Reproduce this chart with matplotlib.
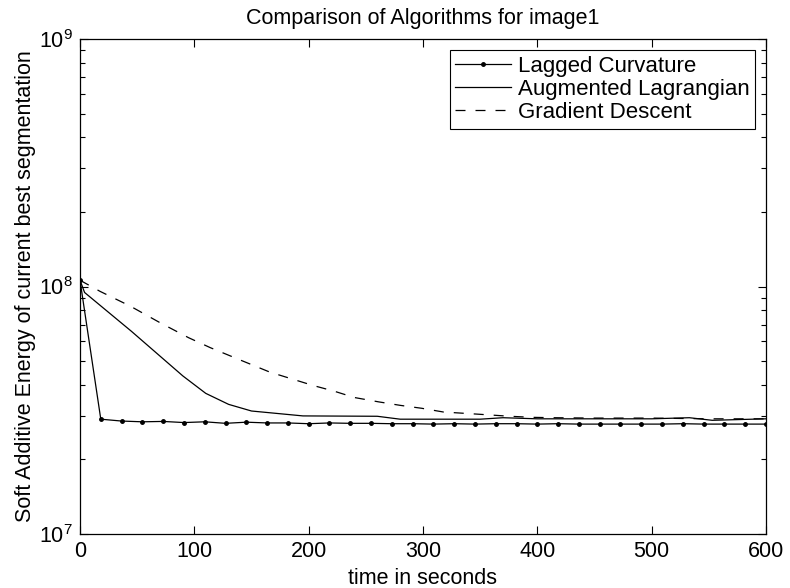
import numpy as np
import matplotlib
matplotlib.use("Agg")
import matplotlib.pyplot as plt
from matplotlib.ticker import LogLocator, NullFormatter, FixedLocator

# =========================
# Datos
# =========================
t_lagged = [i * 600 / 33 for i in range(34)]
e_lagged = [1.06e8, 2.91e7, 2.86e7, 2.84e7, 2.85e7, 2.82e7, 2.84e7, 2.80e7,
            2.83e7, 2.81e7, 2.81e7, 2.79e7, 2.81e7, 2.80e7, 2.80e7, 2.79e7,
            2.79e7, 2.78e7, 2.79e7, 2.78e7, 2.79e7, 2.79e7, 2.78e7, 2.79e7,
            2.78e7, 2.78e7, 2.78e7, 2.78e7, 2.78e7, 2.79e7, 2.78e7, 2.78e7,
            2.78e7, 2.78e7]

t_auglag = [0, 4, 45, 90, 110, 130, 150, 195, 260, 280, 350, 370, 400,
            500, 533, 553, 600]
e_auglag = [1.06e8, 9.46e7, 6.59e7, 4.35e7, 3.70e7, 3.34e7, 3.14e7, 3.00e7,
            2.99e7, 2.91e7, 2.91e7, 2.95e7, 2.92e7, 2.92e7, 2.95e7, 2.88e7,
            2.92e7]

t_grad = [0, 17.5, 44, 70, 95, 114, 140, 166, 204, 222, 240, 261, 280, 299,
          318, 338, 357, 376, 396, 415, 450, 500, 550, 600]
e_grad = [1.06e8, 9.56e7, 8.33e7, 7.14e7, 6.21e7, 5.66e7, 5.05e7, 4.51e7,
          3.98e7, 3.78e7, 3.56e7, 3.42e7, 3.31e7, 3.22e7, 3.11e7, 3.07e7,
          3.03e7, 2.99e7, 2.96e7, 2.95e7, 2.94e7, 2.94e7, 2.92e7, 2.92e7]

x_ticks = [0, 100, 200, 300, 400, 500, 600]

plt.rcParams["font.family"] = ["Liberation Sans", "DejaVu Sans"]
plt.rcParams["font.size"] = 15.5
plt.rcParams["lines.scale_dashes"] = False

fig = plt.figure(figsize=(7.9, 5.88), dpi=100)
ax = fig.add_axes([80 / 790, 1 - 534 / 588, 686 / 790, 495 / 588])

ax.semilogy(t_lagged, e_lagged, color="black", lw=0.9, marker=".",
            markersize=5, label="Lagged Curvature")
ax.semilogy(t_auglag, e_auglag, color="black", lw=0.9,
            label="Augmented Lagrangian")
ax.semilogy(t_grad, e_grad, color="black", lw=0.9, dashes=(7.2, 7.2),
            label="Gradient Descent")

ax.set_xlim(0, 600)
ax.set_ylim(1e7, 1e9)
ax.xaxis.set_major_locator(FixedLocator(x_ticks))
ax.yaxis.set_major_locator(LogLocator(base=10, numticks=10))
ax.yaxis.set_minor_locator(LogLocator(base=10, subs=np.arange(2, 10), numticks=20))
ax.yaxis.set_minor_formatter(NullFormatter())

ax.tick_params(which="both", direction="in", top=True, right=True,
               width=0.8, colors="black", labelsize=15.5)
ax.tick_params(which="major", length=6, pad=5)
ax.tick_params(which="minor", length=3.5)
for s in ax.spines.values():
    s.set_linewidth(0.9)

ax.set_title("Comparison of Algorithms for image1", fontsize=15.5, pad=11)
ax.set_xlabel("time in seconds", fontsize=15.5, labelpad=4)
ax.set_ylabel("Soft Additive Energy of current best segmentation",
              fontsize=15.5, labelpad=2)

leg = ax.legend(loc="upper right", fontsize=16, frameon=True, fancybox=False,
                edgecolor="black", framealpha=1, borderpad=0.25,
                labelspacing=0.1, handlelength=2.5, handletextpad=0.3,
                borderaxespad=0.5, numpoints=1)
leg.get_frame().set_linewidth(0.8)

fig.savefig("out.png", dpi=100)
